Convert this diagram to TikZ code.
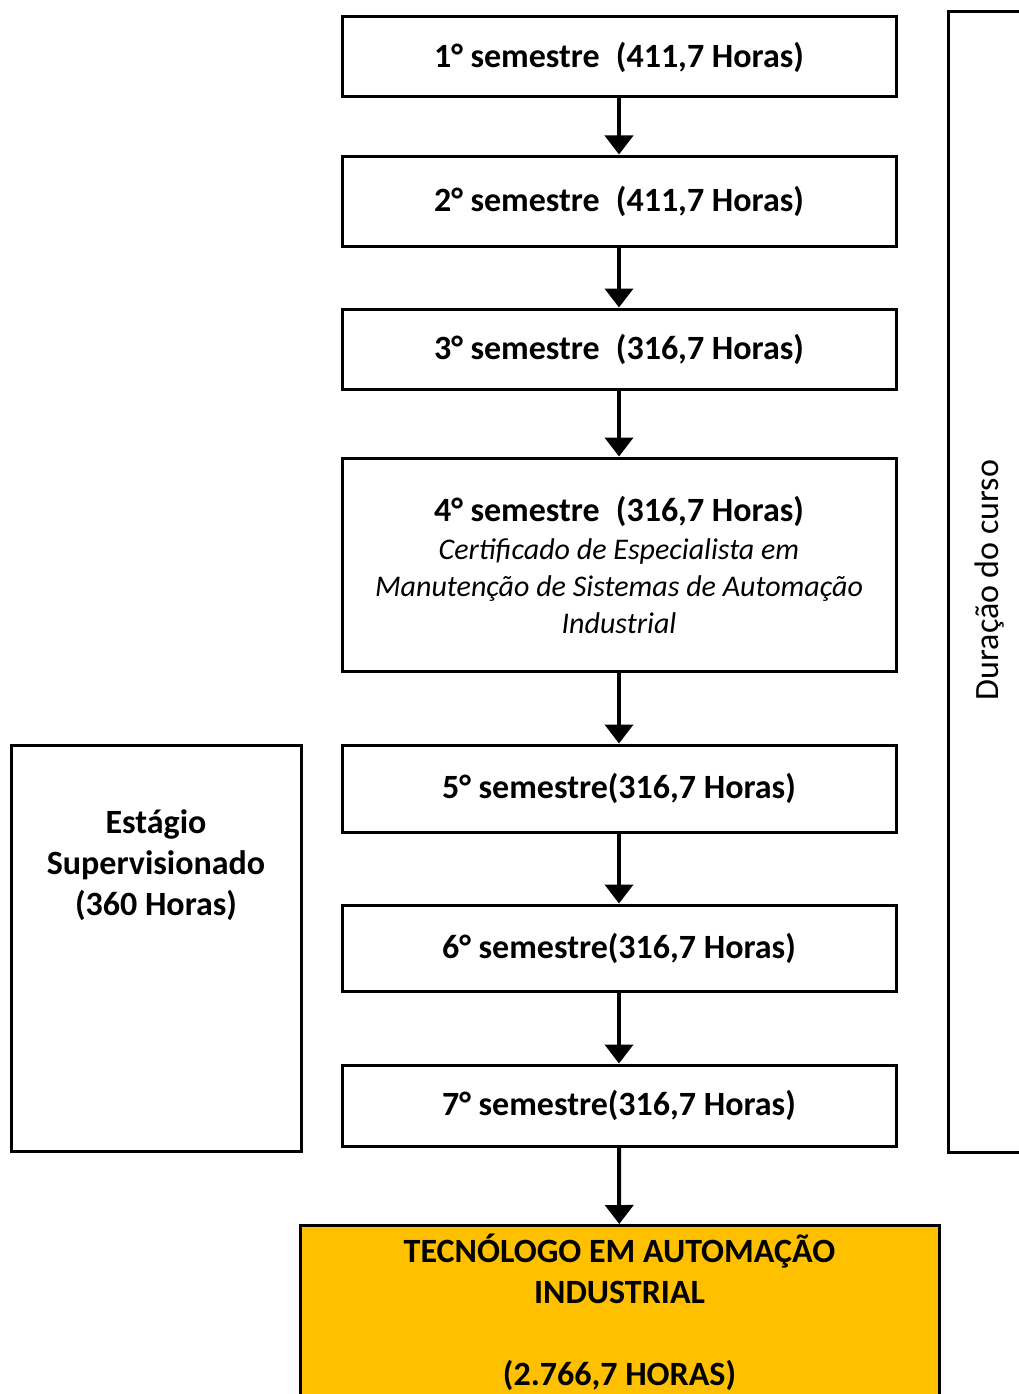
\documentclass[tikz,border=0pt]{standalone}
\usepackage{fontspec}
\setmainfont{Carlito}
\usetikzlibrary{arrows.meta}
\definecolor{gold}{HTML}{FFC000}
\begin{document}
\begin{tikzpicture}[x=1pt,y=-1pt,
  semb/.style={draw=black, line width=3pt, fill=white, minimum width=554pt, inner sep=0pt,
    font=\bfseries\fontsize{34}{41}\selectfont, align=center},
  plainbox/.style={draw=black, line width=3pt, inner sep=0pt},
  arr/.style={line width=4pt, -{Triangle[width=28pt,length=19pt]}},
  bigtxt/.style={font=\bfseries\fontsize{34}{41}\selectfont, align=center, inner sep=0pt},
]
\useasboundingbox (0,0) rectangle (1019,1394);
\fill[white] (0,0) rectangle (1019,1394);

\node[semb, minimum height=80pt] (b1) at (619,57) {1° semestre\hspace{0.25em} (411,7 Horas)};
\node[semb, minimum height=90pt] (b2) at (619,201) {2° semestre\hspace{0.25em} (411,7 Horas)};
\node[semb, minimum height=80pt] (b3) at (619,349) {3° semestre\hspace{0.25em} (316,7 Horas)};
\node[semb, minimum height=213pt] (b4) at (619,564.5) {4° semestre\hspace{0.25em} (316,7 Horas)\\[-3pt]
  {\mdseries\itshape\fontsize{30}{37}\selectfont Certificado de Especialista em}\\[-4pt]
  {\mdseries\itshape\fontsize{30}{37}\selectfont Manutenção de Sistemas de Automação}\\[-4pt]
  {\mdseries\itshape\fontsize{30}{37}\selectfont Industrial}};
\node[semb, minimum height=87pt] (b5) at (619,788.5) {5° semestre(316,7 Horas)};
\node[semb, minimum height=86pt] (b6) at (619,948) {6° semestre(316,7 Horas)};
\node[semb, minimum height=81pt] (b7) at (619,1105.5) {7° semestre(316,7 Horas)};

\node[plainbox, fill=gold, minimum width=639pt, minimum height=220pt, anchor=north] (final) at (619.5,1224) {};
\node[bigtxt, anchor=north] (finaltxt) at ([yshift=-10pt]final.north)
  {TECNÓLOGO EM AUTOMAÇÃO\\INDUSTRIAL\\[41pt](2.766,7 HORAS)};

\node[plainbox, minimum width=290pt, minimum height=406pt] (stage) at (156,948) {};
\node[bigtxt] (stagetxt) at (156,865) {Estágio\\Supervisionado\\(360 Horas)};

\node[plainbox, minimum width=200pt, minimum height=1141pt, anchor=north west] (dur) at (947,10) {};
\node[font=\fontsize{34}{41}\selectfont, rotate=90, inner sep=0pt] (durtxt) at (990,580) {Duração do curso};

\draw[arr] (b1) -- (b2);
\draw[arr] (b2) -- (b3);
\draw[arr] (b3) -- (b4);
\draw[arr] (b4) -- (b5);
\draw[arr] (b5) -- (b6);
\draw[arr] (b6) -- (b7);
\draw[arr] (b7) -- (final);
\end{tikzpicture}
\end{document}
